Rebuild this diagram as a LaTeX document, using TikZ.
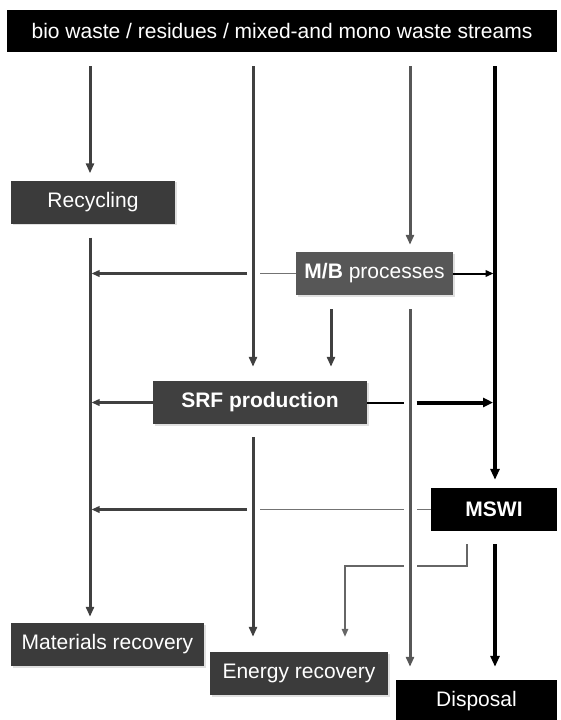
\documentclass[tikz,border=0pt]{standalone}
\usepackage{fontspec}
\setmainfont{Liberation Sans}
\usetikzlibrary{arrows.meta, shadows}
\tikzstyle{source} = [rectangle, minimum width=550pt, minimum height=42pt, inner sep=0pt, text centered, fill=black, text=white]
\tikzstyle{process} = [rectangle, minimum height=43pt, inner sep=0pt, text centered, fill=black!77, text=white, general shadow={fill=black!12, shadow xshift=1.5pt, shadow yshift=-1.5pt}]
\tikzstyle{plant} = [rectangle, minimum height=43pt, inner sep=0pt, text centered, fill=black, text=white]
\tikzstyle{stream} = [line width=3pt, draw=black!75, -{Triangle[length=10pt,width=8pt]}]
\tikzstyle{mainstream} = [line width=4pt, draw=black, -{Triangle[length=11pt,width=9pt]}]
\tikzstyle{side} = [line width=2.5pt, draw=black!75, -{Triangle[length=8pt,width=6.5pt]}, shorten >=1.5pt]
\tikzstyle{feed} = [line width=2pt, draw=black, -{Triangle[length=8pt,width=6.5pt]}, shorten >=1.5pt]
\tikzstyle{mainfeed} = [line width=4pt, draw=black, -{Triangle[length=10pt,width=9pt]}, shorten >=2pt]
\tikzstyle{link} = [line width=1.5pt, draw=black!55]
\tikzstyle{ashlink} = [line width=1.5pt, draw=black!60]

\begin{document}
\begin{tikzpicture}[x=1pt, y=-1pt, font=\fontsize{21}{25}\selectfont]
      \useasboundingbox (0,0) rectangle (561,720);
      % Nodes
      \node (src) [source] at (282,31) {bio waste / residues / mixed-and mono waste streams};
      \node (rec) [process, minimum width=164pt] at (93,202) {Recycling};
      \node (mb) [process, minimum width=157pt, fill=black!66] at (374.5,273.5) {\textbf{M/B} processes};
      \node (srf) [process, minimum width=214pt, fill=black!75] at (260,402.5) {\textbf{SRF production}};
      \node (mswi) [plant, minimum width=126pt] at (494,509.5) {\textbf{MSWI}};
      \node (mat) [process, minimum width=193pt] at (107.5,644.5) {Materials recovery};
      \node (ener) [process, minimum width=178pt] at (299,673.5) {Energy recovery};
      \node (disp) [plant, minimum width=161pt] at (476.5,701.5) {Disposal};
      % Columns
      \coordinate (colA) at (90,0);
      \coordinate (colB) at (253,0);
      \coordinate (colM) at (331,0);
      \coordinate (colE) at (345,0);
      \coordinate (colC) at (410,0);
      \coordinate (colD) at (495,0);
      \coordinate (ash) at (467,566);
      % Vertical streams
      \draw [stream, shorten <=14pt, shorten >=7pt] (src.south -| colA) -- (rec.north -| colA);
      \draw [stream, shorten <=14pt, shorten >=6pt] (rec.south -| colA) -- (mat.north -| colA);
      \draw [stream, shorten <=14pt, shorten >=14pt] (src.south -| colB) -- (srf.north -| colB);
      \draw [stream, shorten <=13pt, shorten >=15pt] (srf.south -| colB) -- (ener.north -| colB);
      \draw [stream, draw=black!66, shorten <=14pt, shorten >=7pt] (src.south -| colC) -- (mb.north -| colC);
      \draw [stream, draw=black!66, shorten <=14pt, shorten >=13pt] (mb.south -| colC) -- (disp.north -| colC);
      \draw [mainstream, shorten <=14pt, shorten >=8pt] (src.south -| colD) -- (mswi.north -| colD);
      \draw [mainstream, shorten <=13pt, shorten >=13pt] (mswi.south -| colD) -- (disp.north -| colD);
      \draw [stream, shorten <=14pt, shorten >=14pt] (mb.south -| colM) -- (srf.north -| colM);
      % Side streams
      \draw [link, shorten >=6.5pt] (mb.west) -- (mb.west -| colB);
      \draw [side, shorten <=6pt] (mb.west -| colB) -- (mb.west -| colA);
      \draw [feed] (mb.east) -- (mb.east -| colD);
      \draw [side] (srf.west) -- (srf.west -| colA);
      \draw [line width=2pt, shorten >=6.5pt] (srf.east) -- (srf.east -| colC);
      \draw [mainfeed, shorten <=6.5pt] (srf.east -| colC) -- (srf.east -| colD);
      \draw [link, shorten >=6.5pt] (mswi.west) -- (mswi.west -| colC);
      \draw [link, shorten <=6.5pt, shorten >=6.5pt] (mswi.west -| colC) -- (mswi.west -| colB);
      \draw [side, shorten <=6pt] (mswi.west -| colB) -- (mswi.west -| colA);
      \draw [ashlink, shorten <=13pt, shorten >=6.5pt] (mswi.south -| ash) |- (ash -| colC);
      \draw [ashlink, -{Triangle[length=8pt,width=6.5pt]}, shorten <=6.5pt, shorten >=15pt] (ash -| colC) -| (ener.north -| colE);
\end{tikzpicture}
\end{document}
